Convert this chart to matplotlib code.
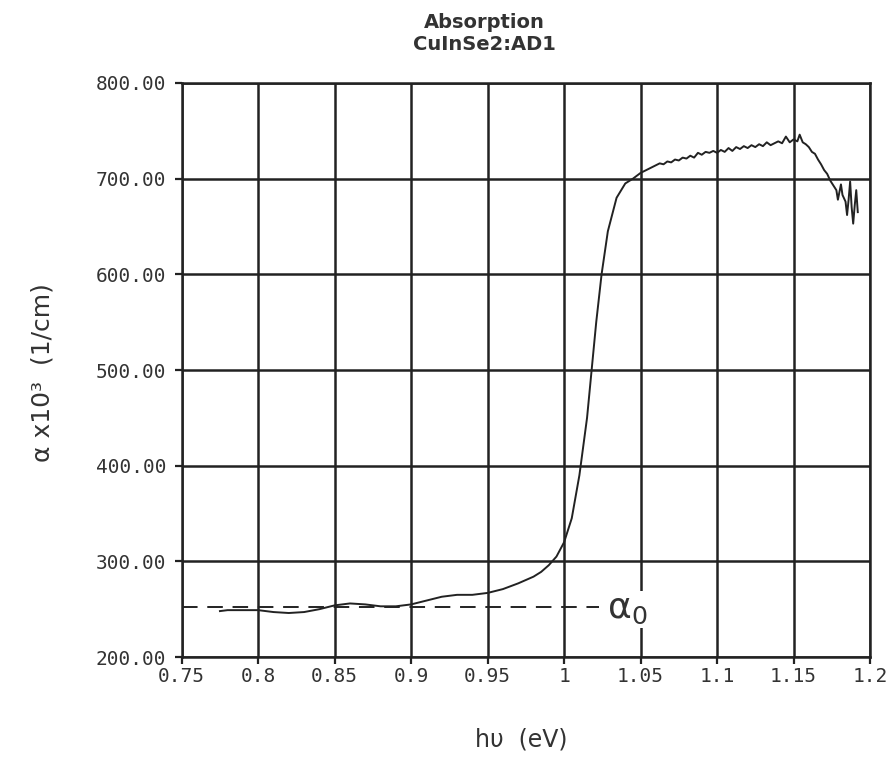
import matplotlib.pyplot as plt

# photon energy (eV) and absorption (x10^3 1/cm)
energy = [0.775, 0.78, 0.79, 0.80, 0.81, 0.82, 0.83, 0.84, 0.85, 0.86,
          0.87, 0.88, 0.89, 0.90, 0.91, 0.92, 0.93, 0.94, 0.95, 0.96,
          0.97, 0.98, 0.985, 0.99, 0.995, 1.000, 1.005, 1.010, 1.015, 1.018,
          1.021, 1.0245, 1.0286, 1.0343, 1.040, 1.045, 1.050, 1.055,
          1.0600, 1.0625, 1.0650, 1.0675, 1.0700, 1.0725, 1.0750, 1.0775,
          1.0800, 1.0825, 1.0850, 1.0875, 1.0900, 1.0925, 1.0950, 1.0975,
          1.1000, 1.1025, 1.1050, 1.1075, 1.1100, 1.1125, 1.1150, 1.1175,
          1.1200, 1.1225, 1.1250, 1.1275, 1.1300, 1.1325, 1.1350, 1.1375,
          1.1400, 1.1425, 1.1450, 1.1475, 1.1500, 1.1525, 1.1540, 1.1560,
          1.1580, 1.1600, 1.1620, 1.1640, 1.1660, 1.1680, 1.1700, 1.1720,
          1.1740, 1.1760, 1.1780, 1.1790, 1.1800, 1.1810, 1.1820, 1.1840,
          1.1850, 1.1860, 1.1870, 1.1880, 1.1890, 1.1900, 1.1910, 1.1920]
alpha = [248, 249, 249, 249, 247, 246, 247, 250, 254, 256,
         255, 253, 253, 255, 259, 263, 265, 265, 267, 271,
         277, 284, 289, 296, 305, 320, 345, 390, 450, 500,
         550, 600, 645, 680, 695, 700, 706, 710,
         714, 716, 715, 718, 717, 720, 719, 722,
         721, 724, 722, 727, 725, 728, 727, 729,
         727, 730, 728, 732, 729, 733, 731, 734,
         732, 735, 733, 736, 734, 738, 735, 737,
         739, 737, 744, 738, 741, 739, 746, 738,
         736, 733, 728, 726, 720, 715, 709, 705,
         698, 693, 688, 678, 686, 694, 683, 676,
         662, 678, 697, 670, 653, 672, 688, 665]

alpha0 = 252
alpha0_end = 1.0226

x_ticks = [0.75, 0.8, 0.85, 0.9, 0.95, 1.0, 1.05, 1.1, 1.15, 1.2]
x_labels = ['0.75', '0.8', '0.85', '0.9', '0.95', '1', '1.05', '1.1', '1.15', '1.2']
y_ticks = [200, 300, 400, 500, 600, 700, 800]

fig = plt.figure(figsize=(8.96, 7.6), dpi=100)
ax = fig.add_axes([0.2028, 0.1355, 0.7682, 0.7553])

ax.plot(energy, alpha, color='#222222', linewidth=1.4)
ax.plot([0.75, alpha0_end], [alpha0, alpha0], color='#222222',
        linewidth=1.4, linestyle=(0, (8, 5)))

ax.set_xlim(0.75, 1.2)
ax.set_ylim(200, 800)
ax.set_xticks(x_ticks)
ax.set_xticklabels(x_labels)
ax.set_yticks(y_ticks)
ax.set_yticklabels(['%.2f' % v for v in y_ticks])

ax.grid(True, color='#222222', linewidth=1.8)
for s in ax.spines.values():
    s.set_linewidth(1.8)
    s.set_color('#222222')
ax.tick_params(direction='out', length=5, width=1.6, color='#222222',
               labelsize=14, labelcolor='#333333')
ax.tick_params(axis='x', pad=2)
ax.tick_params(axis='y', pad=6)
for lab in ax.get_xticklabels() + ax.get_yticklabels():
    lab.set_family('DejaVu Sans Mono')

ax.text(1.041, alpha0 - 2, r'$\mathrm{\alpha}_0$', fontsize=26, color='#333333',
        ha='center', va='center',
        bbox=dict(facecolor='white', edgecolor='none', pad=1))

fig.text(0.541, 0.971, 'Absorption', ha='center', va='center',
         fontsize=14, fontweight='bold', color='#333333')
fig.text(0.541, 0.942, 'CuInSe2:AD1', ha='center', va='center',
         fontsize=14, fontweight='bold', color='#333333')

fig.text(0.047, 0.51, 'α x10³  (1/cm)', rotation=90, ha='center', va='center',
         fontsize=18, color='#333333')
fig.text(0.582, 0.027, 'hυ  (eV)', ha='center', va='center',
         fontsize=17, color='#333333')

fig.savefig('out.png', dpi=100)
